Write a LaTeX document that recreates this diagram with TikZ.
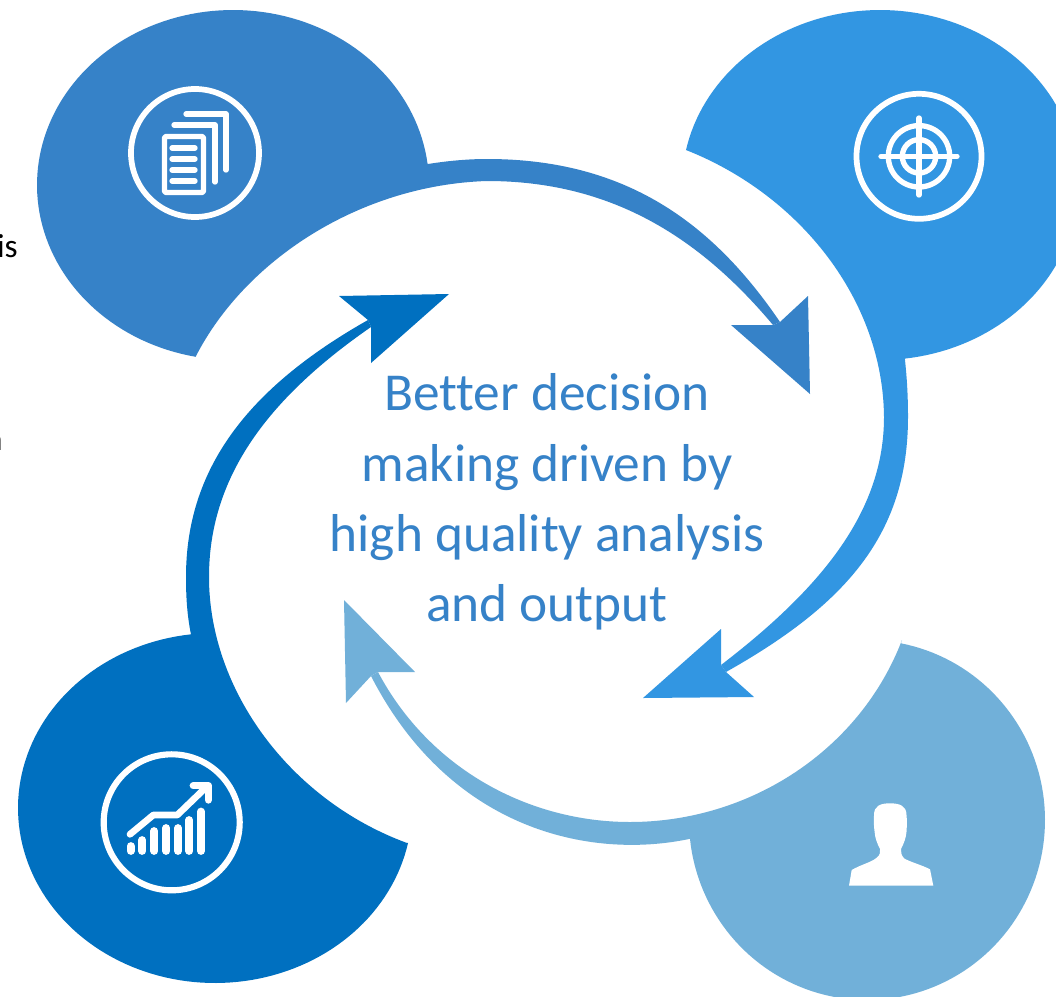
\documentclass[tikz,border=0pt]{standalone}
\usepackage{fontspec}
\setmainfont[Ligatures=CommonOff]{Carlito}
\definecolor{cTL}{HTML}{3682C8}
\definecolor{cTR}{HTML}{3296E2}
\definecolor{cBL}{HTML}{0070C0}
\definecolor{cBR}{HTML}{71B0D9}
\tikzset{
  iconline/.style={draw=white,line width=4pt,line cap=round,line join=round},
  ring/.style={draw=white,line width=4.3pt},
  centertext/.style={text=cTL,font=\fontsize{40}{52.7}\selectfont,align=center,inner sep=0pt},
  sidetext/.style={text=black,font=\fontsize{25}{28}\selectfont,inner sep=0pt,anchor=base east},
  bar/.style={draw=white,line width=5.8pt,line cap=round}
}
\begin{document}
\begin{tikzpicture}[x=0.75pt,y=-0.75pt]
\clip (0,0) rectangle (1056,996);
\fill[white] (0,0) rectangle (1056,996);
% top-left
\fill[cTL] plot[domain=-7:-259,samples=120] ({233+196*cos(\x)},{185+175*sin(\x)})
  .. controls (245,260) and (360,185) .. (487,181)
  .. controls (612,181) and (700,238) .. (773,325) -- (780,322)
  .. controls (712,222) and (625,159) .. (487,159)
  .. controls (467,159) and (447,161) .. (428,164) -- cycle;
\fill[cTL] (731,325) -- (773,325) -- (780,322) -- (808,296) -- (810,394) -- cycle;
% top-right
\fill[cTR] plot[domain=-168.5:82.8,samples=120] ({880+198*cos(\x)},{185+175*sin(\x)})
  .. controls (907,378) and (908,397) .. (908,417)
  .. controls (908,535) and (845,605) .. (726,672) -- (721,665)
  .. controls (824,586) and (884,510) .. (884,417)
  .. controls (883,300) and (800,195) .. (686,150) -- cycle;
\fill[cTR] (643,698) -- (721,629) -- (721,665) -- (726,672) -- (754,697) -- cycle;
% bottom-right
\fill[cBR] plot[domain=-79:174,samples=120] ({867+178*cos(\x)},{820+180*sin(\x)})
  .. controls (590,860) and (450,830) .. (371,676) -- (378,672)
  .. controls (430,770) and (530,822) .. (630,822)
  .. controls (750,822) and (860,750) .. (902,640) -- cycle;
\fill[cBR] (344,600) -- (415,672) -- (378,672) -- (371,676) -- (346,703) -- cycle;
% bottom-left
\fill[cBL] plot[domain=11.5:263,samples=120] ({215+197*cos(\x)},{808+175*sin(\x)})
  .. controls (187,615) and (186,596) .. (186,577)
  .. controls (186,470) and (246,389) .. (368,320) -- (371,327)
  .. controls (264,401) and (209,480) .. (209,577)
  .. controls (209,690) and (290,800) .. (407,843) -- cycle;
\fill[cBL] (449,294) -- (339,296) -- (368,320) -- (371,327) -- (371,363) -- cycle;
% documents icon
\draw[ring] (195,153) circle[radius=64];
\draw[iconline,rounded corners=1pt] (164.5,136.5) rectangle (203.5,192.5);
\foreach \yy in {148,159,170,181} \draw[iconline] (172,\yy) -- (195,\yy);
\draw[iconline] (174,125) -- (215,125) -- (215,182);
\draw[iconline] (186,114) -- (226,114) -- (226,170);
% target icon
\draw[ring] (919,156.3) circle[radius=62.5];
\draw[iconline] (881,156.3) -- (957,156.3);
\draw[iconline] (919,118) -- (919,195);
\draw[iconline] (919,156.3) circle[radius=30.7];
\draw[iconline] (919,156.3) circle[radius=16.7];
% chart icon
\draw[ring,line width=4.6pt] (171.7,822.3) circle[radius=68];
\draw[bar] (130.7,851) -- (130.7,846);
\draw[bar] (142.3,851) -- (142.3,840);
\draw[bar] (154.3,851) -- (154.3,831);
\draw[bar] (166.3,851) -- (166.3,828);
\draw[bar] (178,851) -- (178,828);
\draw[bar] (189.3,851) -- (189.3,820);
\draw[bar] (201,851) -- (201,811.5);
\draw[iconline,line width=5pt] (130,834.3) -- (153.3,815) -- (177.3,815) -- (205,788.3);
\draw[iconline,line width=5.5pt] (193.3,785.7) -- (208.3,785.7) -- (208.3,800);
% person icon
\fill[white] (849,885.7) -- (851.7,870) .. controls (860,865) and (872,862) .. (876.7,857.7)
  .. controls (881,854) and (880,852) .. (880,849)
  .. controls (877,843) and (875,838) .. (874.6,831.7)
  .. controls (873.5,825) and (874,820) .. (874,815)
  .. controls (874,806) and (880,803.3) .. (890,803.3)
  .. controls (900,803.3) and (906.5,806) .. (906.5,815)
  .. controls (907,820) and (907,825) .. (906.5,831.7)
  .. controls (906,838) and (904,843) .. (901,849)
  .. controls (901,852) and (901,855) .. (904,858.3)
  .. controls (910,862) and (922,865) .. (930,869.3) -- (933.3,885.7) -- cycle;
% texts
\node[centertext] (title) at (547,502) {Better decision\\making driven by\\high quality analysis\\and output};
\node[sidetext] (frag1) at (18,257) {is};
\node[sidetext] (frag2) at (3,450) {n};
\end{tikzpicture}
\end{document}
